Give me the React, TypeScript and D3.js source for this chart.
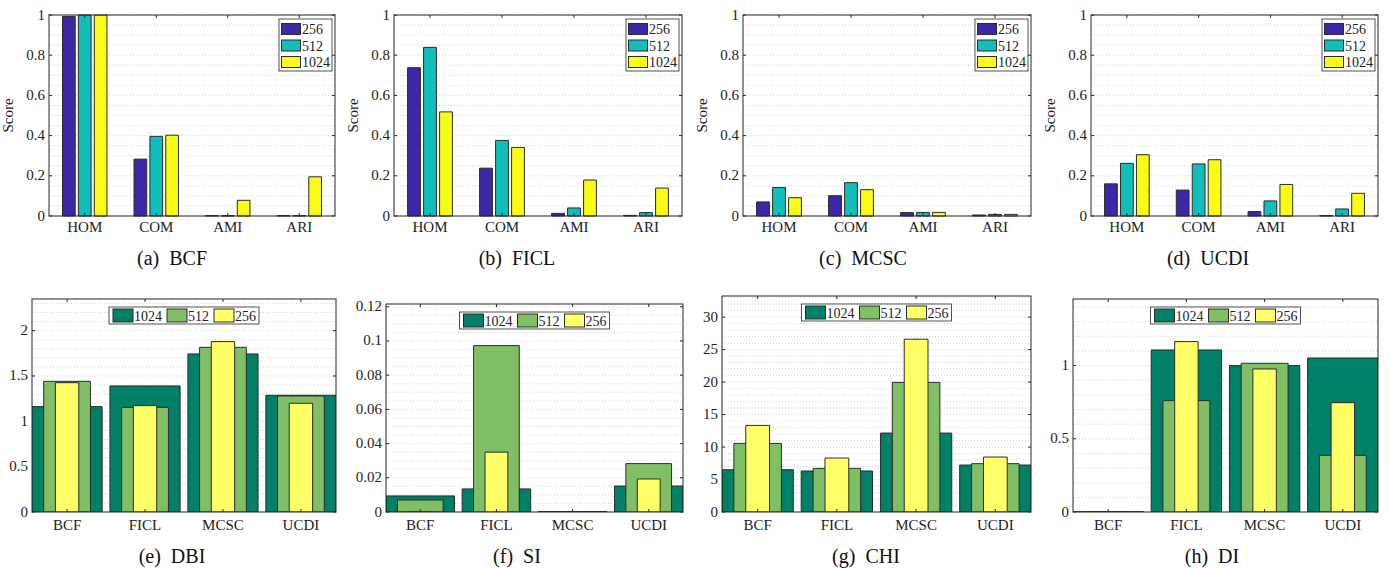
import * as d3 from 'd3'

// top row: clustering scores per dataset
const topCats = ['HOM', 'COM', 'AMI', 'ARI']
const topSeries = ['256', '512', '1024']
const topColors = ['#3E26A8', '#12BEB9', '#F9FB15']

const bcf256 = [0.993, 0.283, 0.002, 0.002]
const bcf512 = [1.0, 0.396, 0.002, 0.002]
const bcf1024 = [1.0, 0.402, 0.078, 0.195]

const ficl256 = [0.738, 0.238, 0.013, 0.003]
const ficl512 = [0.839, 0.376, 0.04, 0.017]
const ficl1024 = [0.518, 0.341, 0.179, 0.139]

const mcsc256 = [0.07, 0.101, 0.017, 0.005]
const mcsc512 = [0.142, 0.166, 0.018, 0.008]
const mcsc1024 = [0.091, 0.131, 0.018, 0.008]

const ucdi256 = [0.16, 0.129, 0.022, 0.002]
const ucdi512 = [0.262, 0.259, 0.075, 0.035]
const ucdi1024 = [0.305, 0.28, 0.157, 0.113]

const topTicks = [0, 0.2, 0.4, 0.6, 0.8, 1]

// bottom row: internal indices per dataset
const botCats = ['BCF', 'FICL', 'MCSC', 'UCDI']
const botSeries = ['1024', '512', '256']
const botColors = ['#008066', '#80BF66', '#FFFF66']

const dbi1024 = [1.162, 1.39, 1.743, 1.287]
const dbi512 = [1.441, 1.154, 1.816, 1.279]
const dbi256 = [1.426, 1.173, 1.879, 1.199]

const si1024 = [0.0094, 0.0135, 0.0003, 0.0152]
const si512 = [0.007, 0.0973, 0.0002, 0.0283]
const si256 = [0.0, 0.035, 0.0001, 0.0193]

const chi1024 = [6.51, 6.31, 12.15, 7.23]
const chi512 = [10.56, 6.72, 19.95, 7.44]
const chi256 = [13.33, 8.31, 26.6, 8.46]

const di1024 = [0.002, 1.107, 1.0, 1.052]
const di512 = [0.001, 0.761, 1.016, 0.387]
const di256 = [0.001, 1.164, 0.977, 0.747]

const dbiTicks = [0, 0.5, 1, 1.5, 2]
const siTicks = [0, 0.02, 0.04, 0.06, 0.08, 0.1, 0.12]
const chiTicks = [0, 5, 10, 15, 20, 25, 30]
const diTicks = [0, 0.5, 1]

const FONT = '"Liberation Serif", "Times New Roman", serif'
const AXIS = '#262626'
const EDGE = '#2b2b2b'
const GRID = '#c4c4c4'

const fmt = (v: number) => String(+v.toFixed(4))

const topPanels = [
  { label: '(a)', name: 'BCF', data: [bcf256, bcf512, bcf1024], x0: 49, x1: 335, cx: 172 },
  { label: '(b)', name: 'FICL', data: [ficl256, ficl512, ficl1024], x0: 394, x1: 682, cx: 517 },
  { label: '(c)', name: 'MCSC', data: [mcsc256, mcsc512, mcsc1024], x0: 743, x1: 1031, cx: 863 },
  { label: '(d)', name: 'UCDI', data: [ucdi256, ucdi512, ucdi1024], x0: 1091, x1: 1378, cx: 1208 },
]

const botPanels = [
  { label: '(e)', name: 'DBI', data: [dbi1024, dbi512, dbi256], ticks: dbiTicks, minor: 0.1, x0: 32, x1: 336, y0: 299, cx: 172 },
  { label: '(f)', name: 'SI', data: [si1024, si512, si256], ticks: siTicks, minor: 0.005, x0: 386, x1: 683, y0: 304, cx: 517 },
  { label: '(g)', name: 'CHI', data: [chi1024, chi512, chi256], ticks: chiTicks, minor: 1, x0: 722, x1: 1031, y0: 296, cx: 866 },
  { label: '(h)', name: 'DI', data: [di1024, di512, di256], ticks: diTicks, minor: 0.1, x0: 1073, x1: 1378, y0: 299, cx: 1212 },
]

const barPath = (xa: number, xb: number, yBase: number, yTop: number) =>
  `M${xa},${yBase}V${yTop}H${xb}V${yBase}Z`

function Frame({ x, y, cats, ticks, minor, clipId, labelGap }: any) {
  const [x0, x1] = x.range()
  const [yb, yt] = y.range()
  const top = y.domain()[1]
  const minors = d3.range(0, top + 1e-9, minor)
  return (
    <g>
      {minors.map((v: number, i: number) => (
        <line key={'g' + i} x1={x0} x2={x1} y1={y(v)} y2={y(v)} stroke={GRID} strokeWidth={0.8} strokeDasharray="1,2" />
      ))}
      <defs>
        <clipPath id={clipId}>
          <rect x={x0} y={yt} width={x1 - x0} height={yb - yt} />
        </clipPath>
      </defs>
      {ticks.map((v: number) => (
        <g key={'t' + v}>
          <line x1={x0} x2={x0 + 3} y1={y(v)} y2={y(v)} stroke={AXIS} />
          <line x1={x1} x2={x1 - 3} y1={y(v)} y2={y(v)} stroke={AXIS} />
          <text x={x0 - 4} y={y(v) + 4.5} textAnchor="end" fontSize={15} fontFamily={FONT} fill="#222">
            {fmt(v)}
          </text>
        </g>
      ))}
      {cats.map((c: string, i: number) => (
        <text key={c} x={x(i + 1)} y={yb + labelGap} textAnchor="middle" fontSize={15} fontFamily={FONT} fill="#222">
          {c}
        </text>
      ))}
    </g>
  )
}

function Box({ x, y, cats }: any) {
  const [x0, x1] = x.range()
  const [yb, yt] = y.range()
  return (
    <g>
      {cats.map((c: string, i: number) => (
        <g key={c}>
          <line x1={x(i + 1)} x2={x(i + 1)} y1={yb} y2={yb - 3} stroke={AXIS} />
          <line x1={x(i + 1)} x2={x(i + 1)} y1={yt} y2={yt + 3} stroke={AXIS} />
        </g>
      ))}
      <rect x={x0} y={yt} width={x1 - x0} height={yb - yt} fill="none" stroke={AXIS} strokeWidth={1} />
    </g>
  )
}

function TopPanel({ p, idx }: any) {
  const yB = 216
  const yT = 15
  const x = d3.scaleLinear().domain([0.5, 4.5]).range([p.x0, p.x1])
  const y = d3.scaleLinear().domain([0, 1]).range([yB, yT])
  const step = 2 / 9 // MATLAB grouped bar spacing
  const bw = step * 0.8
  const lx = p.x1 - 56
  const ly = yT + 4
  return (
    <g>
      <Frame x={x} y={y} cats={topCats} ticks={topTicks} minor={0.05} clipId={'ct' + idx} labelGap={16} />
      {p.data.map((vals: number[], s: number) =>
        vals.map((v, i) => {
          const c = i + 1 + (s - 1) * step
          return (
            <path key={s + '-' + i} d={barPath(x(c - bw / 2), x(c + bw / 2), y(0), y(v))}
              fill={topColors[s]} stroke={EDGE} strokeWidth={1} />
          )
        })
      )}
      <Box x={x} y={y} cats={topCats} />
      <text transform={`translate(${p.x0 - 36},${(yT + yB) / 2}) rotate(-90)`} textAnchor="middle"
        fontSize={15} fontFamily={FONT} fill="#222">Score</text>
      <g>
        <rect x={lx} y={ly} width={53} height={52} fill="#fff" stroke={AXIS} strokeWidth={0.8} />
        {topSeries.map((s, i) => (
          <g key={s}>
            <rect x={lx + 2.5} y={ly + 4.5 + i * 16.5} width={19} height={11} fill={topColors[i]} stroke={EDGE} />
            <text x={lx + 23} y={ly + 15 + i * 16.5} fontSize={14} fontFamily={FONT} fill="#222">{s}</text>
          </g>
        ))}
      </g>
      <text x={p.cx} y={265} textAnchor="middle" fontSize={20} fontFamily={FONT} fill="#111"
        style={{ whiteSpace: 'pre' }}>{`${p.label}  ${p.name}`}</text>
    </g>
  )
}

function BotPanel({ p, idx }: any) {
  const yB = 512
  const top = 1.25 * (d3.max(p.data.flat() as number[]) as number)
  const x = d3.scaleLinear().domain([0.55, 4.45]).range([p.x0, p.x1])
  const y = d3.scaleLinear().domain([0, top]).range([yB, p.y0])
  const widths = [0.9, 0.6, 0.3]
  const lw = 150
  const lx = (p.x0 + p.x1) / 2 - lw / 2
  const ly = p.y0 + 8
  const itemX = [4, 58, 105]
  return (
    <g>
      <Frame x={x} y={y} cats={botCats} ticks={p.ticks} minor={p.minor} clipId={'cb' + idx} labelGap={18} />
      <g clipPath={`url(#cb${idx})`}>
        {p.data.map((vals: number[], s: number) =>
          vals.map((v, i) => (
            <path key={s + '-' + i}
              d={barPath(x(i + 1 - widths[s] / 2), x(i + 1 + widths[s] / 2), y(0), y(v))}
              fill={botColors[s]} stroke={EDGE} strokeWidth={1} />
          ))
        )}
      </g>
      <Box x={x} y={y} cats={botCats} />
      <g>
        <rect x={lx} y={ly} width={lw} height={17} fill="#fff" stroke={AXIS} strokeWidth={0.8} />
        {botSeries.map((s, i) => (
          <g key={s}>
            <rect x={lx + itemX[i]} y={ly + 2} width={20} height={13} fill={botColors[i]} stroke={EDGE} />
            <text x={lx + itemX[i] + 21} y={ly + 13.5} fontSize={14} fontFamily={FONT} fill="#222">{s}</text>
          </g>
        ))}
      </g>
      <text x={p.cx} y={563} textAnchor="middle" fontSize={20} fontFamily={FONT} fill="#111"
        style={{ whiteSpace: 'pre' }}>{`${p.label}  ${p.name}`}</text>
    </g>
  )
}

export default function App() {
  return (
    <div style={{ position: 'absolute', left: 0, top: 0 }}>
      <svg width={1390} height={568} style={{ display: 'block', background: '#fff' }}>
        {topPanels.map((p, i) => <TopPanel key={p.name} p={p} idx={i} />)}
        {botPanels.map((p, i) => <BotPanel key={p.name} p={p} idx={i} />)}
      </svg>
    </div>
  )
}
